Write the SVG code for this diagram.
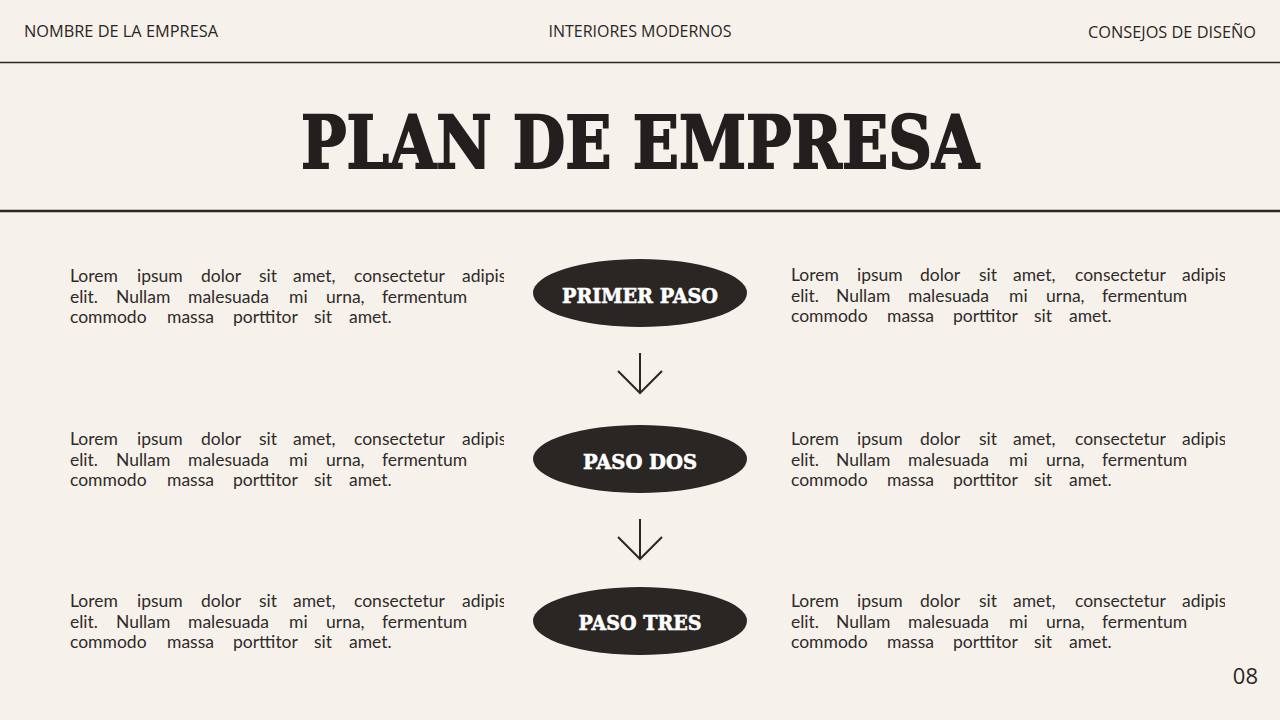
<svg xmlns="http://www.w3.org/2000/svg" width="1280" height="720" viewBox="0 0 1280 720">
<defs>
<style>
.hdr{font-family:"Open Sans","Liberation Sans",sans-serif;font-size:16px;fill:#2a2624}
.title{font-family:"DejaVu Serif","Liberation Serif",serif;font-weight:bold;font-size:72px;fill:#231f1e;stroke:#231f1e;stroke-width:2}
.body{font-family:Lato,"Open Sans",sans-serif;font-size:17.5px;fill:#2f2b29}
.pill{fill:#2a2624}
.lbl{font-family:"DejaVu Serif","Liberation Serif",serif;font-weight:bold;font-size:20px;fill:#ffffff;stroke:#ffffff;stroke-width:0.6;text-anchor:middle}
.arrow{stroke:#2a2624;stroke-width:2;fill:none}
</style>
<clipPath id="clipL"><rect x="0" y="0" width="504" height="720"/></clipPath>
<clipPath id="clipR"><rect x="700" y="0" width="525" height="720"/></clipPath>
</defs>
<rect width="1280" height="720" fill="#f7f1ec"/>
<g id="header">
<text class="hdr" x="24" y="37" textLength="194" lengthAdjust="spacingAndGlyphs">NOMBRE DE LA EMPRESA</text>
<text class="hdr" x="640" y="37" text-anchor="middle" textLength="183" lengthAdjust="spacingAndGlyphs">INTERIORES MODERNOS</text>
<text class="hdr" x="1088" y="38" textLength="168" lengthAdjust="spacingAndGlyphs">CONSEJOS DE DISEÑO</text>
<line x1="0" y1="62.5" x2="1280" y2="62.5" stroke="#2a2624" stroke-width="1.5"/>
</g>
<g id="title">
<text class="title" x="301" y="168" textLength="678" lengthAdjust="spacingAndGlyphs">PLAN DE EMPRESA</text>
<line x1="0" y1="211" x2="1280" y2="211" stroke="#2a2624" stroke-width="2.5"/>
</g>
<g id="text-left" clip-path="url(#clipL)">
<text class="body"><tspan x="70" y="282">Lorem</tspan><tspan x="137">ipsum</tspan><tspan x="201">dolor</tspan><tspan x="259">sit</tspan><tspan x="293">amet,</tspan><tspan x="354">consectetur</tspan><tspan x="462">adipis</tspan><tspan x="70" y="303">elit.</tspan><tspan x="116">Nullam</tspan><tspan x="188">malesuada</tspan><tspan x="289">mi</tspan><tspan x="326">urna,</tspan><tspan x="382">fermentum</tspan><tspan x="70" y="323">commodo</tspan><tspan x="167">massa</tspan><tspan x="233">porttitor</tspan><tspan x="314">sit</tspan><tspan x="349">amet.</tspan></text>
<text class="body"><tspan x="70" y="445">Lorem</tspan><tspan x="137">ipsum</tspan><tspan x="201">dolor</tspan><tspan x="259">sit</tspan><tspan x="293">amet,</tspan><tspan x="354">consectetur</tspan><tspan x="462">adipis</tspan><tspan x="70" y="466">elit.</tspan><tspan x="116">Nullam</tspan><tspan x="188">malesuada</tspan><tspan x="289">mi</tspan><tspan x="326">urna,</tspan><tspan x="382">fermentum</tspan><tspan x="70" y="486">commodo</tspan><tspan x="167">massa</tspan><tspan x="233">porttitor</tspan><tspan x="314">sit</tspan><tspan x="349">amet.</tspan></text>
<text class="body"><tspan x="70" y="607">Lorem</tspan><tspan x="137">ipsum</tspan><tspan x="201">dolor</tspan><tspan x="259">sit</tspan><tspan x="293">amet,</tspan><tspan x="354">consectetur</tspan><tspan x="462">adipis</tspan><tspan x="70" y="628">elit.</tspan><tspan x="116">Nullam</tspan><tspan x="188">malesuada</tspan><tspan x="289">mi</tspan><tspan x="326">urna,</tspan><tspan x="382">fermentum</tspan><tspan x="70" y="648">commodo</tspan><tspan x="167">massa</tspan><tspan x="233">porttitor</tspan><tspan x="314">sit</tspan><tspan x="349">amet.</tspan></text>
</g>
<g id="text-right" clip-path="url(#clipR)">
<text class="body"><tspan x="791" y="281">Lorem</tspan><tspan x="857">ipsum</tspan><tspan x="920">dolor</tspan><tspan x="979">sit</tspan><tspan x="1013">amet,</tspan><tspan x="1075">consectetur</tspan><tspan x="1182">adipis</tspan><tspan x="791" y="302">elit.</tspan><tspan x="836">Nullam</tspan><tspan x="908">malesuada</tspan><tspan x="1009">mi</tspan><tspan x="1046">urna,</tspan><tspan x="1102">fermentum</tspan><tspan x="791" y="322">commodo</tspan><tspan x="887">massa</tspan><tspan x="953">porttitor</tspan><tspan x="1034">sit</tspan><tspan x="1069">amet.</tspan></text>
<text class="body"><tspan x="791" y="445">Lorem</tspan><tspan x="857">ipsum</tspan><tspan x="920">dolor</tspan><tspan x="979">sit</tspan><tspan x="1013">amet,</tspan><tspan x="1075">consectetur</tspan><tspan x="1182">adipis</tspan><tspan x="791" y="466">elit.</tspan><tspan x="836">Nullam</tspan><tspan x="908">malesuada</tspan><tspan x="1009">mi</tspan><tspan x="1046">urna,</tspan><tspan x="1102">fermentum</tspan><tspan x="791" y="486">commodo</tspan><tspan x="887">massa</tspan><tspan x="953">porttitor</tspan><tspan x="1034">sit</tspan><tspan x="1069">amet.</tspan></text>
<text class="body"><tspan x="791" y="607">Lorem</tspan><tspan x="857">ipsum</tspan><tspan x="920">dolor</tspan><tspan x="979">sit</tspan><tspan x="1013">amet,</tspan><tspan x="1075">consectetur</tspan><tspan x="1182">adipis</tspan><tspan x="791" y="628">elit.</tspan><tspan x="836">Nullam</tspan><tspan x="908">malesuada</tspan><tspan x="1009">mi</tspan><tspan x="1046">urna,</tspan><tspan x="1102">fermentum</tspan><tspan x="791" y="648">commodo</tspan><tspan x="887">massa</tspan><tspan x="953">porttitor</tspan><tspan x="1034">sit</tspan><tspan x="1069">amet.</tspan></text>
</g>
<g id="node-primer">
<ellipse class="pill" cx="640" cy="293" rx="107" ry="34"/>
<text class="lbl" x="640" y="303" textLength="156" lengthAdjust="spacingAndGlyphs">PRIMER PASO</text>
</g>
<g id="node-dos">
<ellipse class="pill" cx="640" cy="459" rx="107" ry="34"/>
<text class="lbl" x="640" y="469" textLength="114" lengthAdjust="spacingAndGlyphs">PASO DOS</text>
</g>
<g id="node-tres">
<ellipse class="pill" cx="640" cy="621" rx="107" ry="34"/>
<text class="lbl" x="640" y="630" textLength="123" lengthAdjust="spacingAndGlyphs">PASO TRES</text>
</g>
<g id="connectors">
<path class="arrow" d="M640 353 V393 M618 371 L640 393 L662 371"/>
<path class="arrow" d="M640 519 V559 M618 537 L640 559 L662 537"/>
</g>
<g id="page-number">
<text x="1258" y="684" text-anchor="end" font-family="Open Sans, Liberation Sans, sans-serif" font-size="22" fill="#2a2624">08</text>
</g>
</svg>
